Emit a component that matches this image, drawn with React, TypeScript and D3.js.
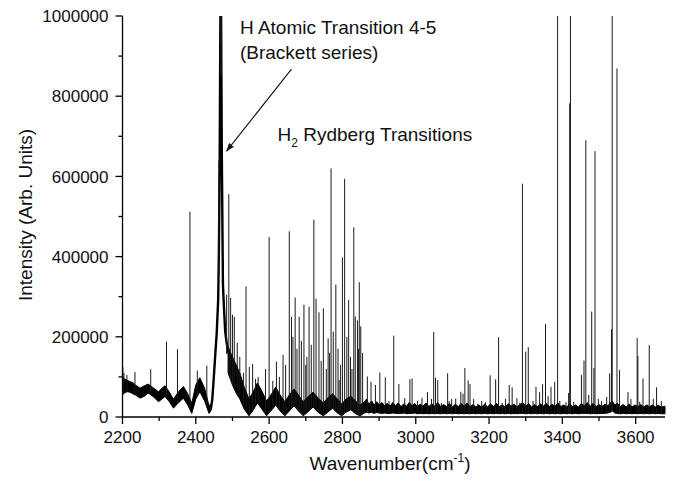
import React from "react";
import * as d3 from "d3";

// ---- data ----
const X_TICKS = [2200, 2400, 2600, 2800, 3000, 3200, 3400, 3600];
const X_MINOR = [2300, 2500, 2700, 2900, 3100, 3300, 3500];
const Y_TICKS = [0, 200000, 400000, 600000, 800000, 1000000];
const Y_MINOR = [100000, 300000, 500000, 700000, 900000];

// noisy baseline band left of the Brackett line: [wavenumber, low, high]
const band1: [number, number, number][] = [
  [2200, 55000, 100000], [2205, 60000, 95000], [2212, 63000, 92000], [2220, 62000, 88000],
  [2228, 58000, 86000], [2235, 55000, 80000],
  [2248, 47000, 72000], [2260, 52000, 78000], [2270, 60000, 82000], [2285, 50000, 72000],
  [2298, 38000, 63000], [2308, 45000, 72000], [2316, 51000, 78000], [2328, 38000, 62000],
  [2339, 22000, 44000], [2352, 35000, 62000], [2366, 47000, 76000], [2378, 30000, 58000],
  [2389, 9000, 34000], [2400, 45000, 80000], [2411, 63000, 98000], [2424, 40000, 72000],
  [2436, 9000, 28000], [2441, 15000, 32000],
];

// noisy baseline band right of the Brackett line
const band2: [number, number, number][] = [
  [2488, 110000, 175000], [2500, 80000, 150000], [2510, 60000, 130000], [2520, 45000, 110000],
  [2532, 20000, 75000], [2545, 3000, 45000], [2555, 15000, 60000], [2568, 35000, 85000],
  [2580, 20000, 65000], [2593, 3000, 40000], [2605, 15000, 55000], [2618, 30000, 75000],
  [2630, 15000, 55000], [2643, 3000, 38000], [2655, 15000, 55000], [2668, 28000, 70000],
  [2680, 15000, 55000], [2693, 3000, 38000], [2705, 12000, 50000], [2720, 25000, 62000],
  [2733, 12000, 48000], [2748, 3000, 35000], [2760, 12000, 48000], [2773, 22000, 58000],
  [2786, 10000, 45000], [2798, 3000, 32000], [2810, 12000, 45000], [2823, 18000, 52000],
  [2836, 8000, 40000], [2848, 3000, 30000],
  [2860, 10000, 38000], [2866, 12000, 45000], [2872, 10000, 32000], [2880, 12000, 40000],
  [2886, 9000, 30000], [2894, 11000, 38000], [2900, 10000, 30000], [2908, 9000, 36000],
  [2915, 10000, 28000], [2922, 9000, 34000], [2930, 9000, 27000], [2937, 10000, 36000],
  [2945, 9000, 28000], [2952, 9000, 35000], [2960, 9000, 26000], [2968, 10000, 33000],
  [2975, 8000, 27000], [2982, 9000, 36000], [2990, 9000, 28000], [2997, 10000, 34000],
  [3005, 8000, 26000], [3012, 9000, 32000], [3020, 8000, 27000], [3028, 9000, 35000],
  [3036, 8000, 26000], [3044, 9000, 33000], [3052, 8000, 27000], [3060, 9000, 36000],
  [3068, 8000, 26000], [3076, 9000, 31000], [3084, 8000, 26000], [3092, 9000, 34000],
  [3100, 8000, 25000], [3108, 9000, 32000], [3116, 8000, 26000], [3124, 9000, 34000],
  [3132, 8000, 27000], [3140, 9000, 35000], [3148, 8000, 26000], [3156, 9000, 31000],
  [3164, 8000, 25000], [3172, 9000, 30000], [3180, 8000, 25000], [3188, 9000, 32000],
  [3196, 8000, 25000], [3204, 9000, 33000], [3212, 8000, 26000], [3220, 9000, 34000],
  [3228, 8000, 26000], [3236, 9000, 30000], [3244, 8000, 25000], [3252, 9000, 33000],
  [3260, 8000, 27000], [3268, 9000, 32000], [3276, 8000, 25000], [3284, 9000, 31000],
  [3292, 9000, 36000], [3300, 8000, 27000], [3308, 9000, 34000], [3316, 8000, 25000],
  [3324, 9000, 31000], [3332, 8000, 26000], [3340, 9000, 33000], [3348, 8000, 27000],
  [3356, 9000, 34000], [3364, 8000, 26000], [3372, 9000, 32000], [3380, 8000, 27000],
  [3388, 9000, 35000], [3396, 8000, 26000], [3404, 9000, 30000], [3412, 8000, 25000],
  [3420, 9000, 33000], [3428, 8000, 26000], [3436, 9000, 30000], [3444, 8000, 25000],
  [3452, 9000, 34000], [3460, 9000, 28000], [3468, 9000, 36000], [3476, 8000, 27000],
  [3484, 9000, 34000], [3492, 8000, 26000], [3500, 9000, 31000], [3508, 9000, 26000],
  [3516, 9000, 32000], [3524, 10000, 28000], [3531, 12000, 36000], [3537, 15000, 38000],
  [3543, 10000, 30000], [3550, 9000, 34000], [3558, 8000, 26000], [3566, 9000, 31000],
  [3574, 8000, 25000], [3582, 9000, 32000], [3590, 8000, 25000], [3598, 9000, 30000],
  [3606, 8000, 26000], [3614, 9000, 31000], [3622, 8000, 25000], [3630, 9000, 30000],
  [3638, 8000, 26000], [3646, 9000, 30000], [3654, 8000, 25000], [3662, 9000, 29000],
  [3670, 8000, 25000], [3680, 8000, 27000],
];

// broad H atomic (Brackett 4-5) line profile
const peakProfile: [number, number][] = [
  [2436, 15000], [2441, 20000], [2445, 45000], [2448, 84000], [2452, 140000],
  [2457, 209000], [2461, 292000], [2463, 417000], [2465, 620000], [2467, 1000000],
  [2469, 1000000], [2471, 650000], [2474, 330000], [2477, 270000], [2480, 215000],
  [2484, 185000], [2488, 165000], [2494, 145000], [2500, 130000],
];

// narrow H2 Rydberg lines: [wavenumber, intensity]
const lines: [number, number][] = [
  [2201, 125000], [2204, 110000], [2212, 105000], [2234, 112000], [2277, 119000],
  [2320, 188000], [2350, 169000], [2384, 512000], [2404, 116000], [2430, 128000],
  [2463, 640000], [2468, 1100000], [2469, 1100000],
  [2484, 305000], [2490, 556000], [2495, 297000], [2500, 255000], [2505, 250000],
  [2513, 185000], [2520, 150000], [2530, 110000], [2537, 326000], [2546, 125000],
  [2555, 132000], [2563, 95000], [2570, 100000], [2590, 120000], [2600, 449000],
  [2610, 90000], [2620, 138000], [2628, 100000], [2638, 155000], [2645, 130000],
  [2655, 463000], [2661, 250000], [2665, 200000], [2671, 298000], [2676, 170000],
  [2682, 250000], [2688, 190000], [2695, 280000], [2700, 130000], [2703, 150000],
  [2709, 275000], [2715, 180000], [2722, 492000], [2728, 295000], [2736, 261000],
  [2742, 140000], [2748, 271000], [2756, 120000], [2761, 196000], [2765, 160000],
  [2769, 620000], [2775, 213000], [2782, 330000], [2788, 170000], [2791, 92000],
  [2795, 130000], [2800, 398000], [2806, 594000], [2812, 200000], [2817, 292000],
  [2822, 150000], [2826, 120000], [2831, 473000], [2835, 251000], [2841, 241000],
  [2844, 170000], [2846, 336000], [2850, 226000], [2855, 160000], [2868, 101000],
  [2878, 88000], [2890, 80000], [2902, 111000], [2917, 99000], [2927, 40000],
  [2940, 203000], [2954, 82000], [2970, 47000], [2984, 94000], [2990, 96000],
  [3005, 40000], [3017, 48000], [3032, 62000], [3043, 45000], [3049, 212000],
  [3054, 98000], [3060, 92000], [3070, 35000], [3087, 109000], [3091, 40000],
  [3098, 45000], [3109, 46000], [3123, 63000], [3129, 58000], [3134, 122000],
  [3143, 91000], [3148, 82000], [3158, 45000], [3169, 33000], [3180, 40000],
  [3190, 37000], [3203, 104000], [3218, 94000], [3226, 199000], [3236, 35000],
  [3245, 45000], [3255, 80000], [3263, 74000], [3276, 47000], [3284, 36000],
  [3291, 582000], [3300, 163000], [3307, 174000], [3320, 40000], [3328, 75000],
  [3338, 62000], [3346, 82000], [3354, 232000], [3361, 52000], [3369, 75000],
  [3379, 88000], [3387, 1100000], [3393, 40000], [3410, 37000], [3417, 60000],
  [3420, 782000], [3422, 1100000], [3431, 38000], [3452, 105000], [3459, 141000],
  [3464, 690000], [3472, 55000], [3480, 263000], [3486, 122000], [3489, 663000],
  [3498, 45000], [3507, 40000], [3521, 50000], [3529, 109000], [3534, 219000],
  [3536, 1100000], [3549, 869000], [3556, 117000], [3579, 62000], [3587, 45000],
  [3604, 197000], [3606, 152000], [3611, 38000], [3620, 96000], [3637, 179000],
  [3648, 45000], [3657, 74000], [3670, 40000],
];

const X_DOMAIN: [number, number] = [2200, 3680];
const Y_DOMAIN: [number, number] = [0, 1000000];

// ---- layout ----
const W = 675;
const H = 485;
const LEFT = 122.5;
const RIGHT = 665;
const TOP = 16;
const BOTTOM = 417;
const FONT = "'Liberation Sans', Arial, sans-serif";

function lowAt(v: number): number {
  const interp = (arr: any[], idx: number) => {
    const xs = arr.map((d) => d[0]);
    const i = d3.bisectLeft(xs, v);
    if (i <= 0) return arr[0][idx];
    if (i >= arr.length) return arr[arr.length - 1][idx];
    const a = arr[i - 1];
    const b = arr[i];
    const t = (v - a[0]) / (b[0] - a[0]);
    return a[idx] + t * (b[idx] - a[idx]);
  };
  if (v <= band1[band1.length - 1][0]) return interp(band1, 1);
  if (v >= band2[0][0]) return interp(band2, 1);
  return interp(peakProfile, 1) * 0.85;
}

export default function App() {
  const x = d3.scaleLinear().domain(X_DOMAIN).range([LEFT, RIGHT]);
  const y = d3.scaleLinear().domain(Y_DOMAIN).range([BOTTOM, TOP]);

  const area = d3
    .area<[number, number, number]>()
    .x((d) => x(d[0]))
    .y0((d) => y(d[1]))
    .y1((d) => y(d[2]));
  const peakLine = d3
    .line<[number, number]>()
    .x((d) => x(d[0]))
    .y((d) => y(d[1]));

  return (
    <svg
      width={W}
      height={H}
      viewBox={`0 0 ${W} ${H}`}
      style={{ position: "absolute", left: 0, top: 0, background: "#fff" }}
      fontFamily={FONT}
    >
      <defs>
        <clipPath id="plotclip">
          <rect x={LEFT} y={TOP} width={RIGHT - LEFT + 2} height={BOTTOM - TOP} />
        </clipPath>
        <marker id="arrowhead" viewBox="0 0 10 10" refX="9" refY="5" markerWidth="8" markerHeight="8" orient="auto">
          <path d="M0,1.5 L10,5 L0,8.5 Z" fill="#111" />
        </marker>
      </defs>

      <g clipPath="url(#plotclip)">
        <path d={area(band1) || ""} fill="#000" stroke="#000" strokeWidth={1} />
        <path d={area(band2) || ""} fill="#000" stroke="#000" strokeWidth={1} />
        <path d={peakLine(peakProfile) || ""} fill="none" stroke="#000" strokeWidth={2.4} strokeLinejoin="round" />
        {lines.map(([wn, v], i) => (
          <line
            key={i}
            x1={x(wn)}
            x2={x(wn)}
            y1={y(lowAt(wn))}
            y2={y(v)}
            stroke="#1a1a1a"
            strokeWidth={1}
          />
        ))}
      </g>

      {/* axes */}
      <line x1={LEFT} x2={LEFT} y1={TOP} y2={BOTTOM} stroke="#000" strokeWidth={1.3} />
      <line x1={LEFT} x2={RIGHT} y1={BOTTOM} y2={BOTTOM} stroke="#000" strokeWidth={1.3} />
      {X_TICKS.map((t) => (
        <g key={"xt" + t}>
          <line x1={x(t)} x2={x(t)} y1={BOTTOM} y2={BOTTOM + 7} stroke="#000" strokeWidth={1.3} />
          <text x={x(t)} y={BOTTOM + 26} textAnchor="middle" fontSize={17} fill="#111">
            {t}
          </text>
        </g>
      ))}
      {X_MINOR.map((t) => (
        <line key={"xm" + t} x1={x(t)} x2={x(t)} y1={BOTTOM} y2={BOTTOM + 4} stroke="#000" strokeWidth={1.3} />
      ))}
      {Y_TICKS.map((t) => (
        <g key={"yt" + t}>
          <line x1={LEFT - 7} x2={LEFT} y1={y(t)} y2={y(t)} stroke="#000" strokeWidth={1.3} />
          <text x={LEFT - 14} y={y(t)} dy="0.36em" textAnchor="end" fontSize={17} fill="#111">
            {t}
          </text>
        </g>
      ))}
      {Y_MINOR.map((t) => (
        <line key={"ym" + t} x1={LEFT - 4} x2={LEFT} y1={y(t)} y2={y(t)} stroke="#000" strokeWidth={1.3} />
      ))}

      {/* axis titles */}
      <text x={390} y={470} textAnchor="middle" fontSize={19} fill="#111">
        Wavenumber(cm<tspan dy={-8} fontSize={12}>-1</tspan>
        <tspan dy={8}>)</tspan>
      </text>
      <text transform={`translate(32, 215) rotate(-90)`} textAnchor="middle" fontSize={19} fill="#111">
        Intensity (Arb. Units)
      </text>

      {/* annotations */}
      <text x={x(2520.5)} y={y(956000)} fontSize={19} fill="#111">
        H Atomic Transition 4-5
      </text>
      <text x={x(2520.5)} y={y(894000)} fontSize={19} fill="#111">
        (Brackett series)
      </text>
      <line
        x1={x(2661)}
        y1={y(867500)}
        x2={x(2484)}
        y2={y(663000)}
        stroke="#111"
        strokeWidth={1.1}
        markerEnd="url(#arrowhead)"
      />
      <text x={x(2623)} y={y(688000)} fontSize={19} fill="#111">
        H<tspan dy={6} fontSize={12}>2</tspan>
        <tspan dy={-6}> Rydberg Transitions</tspan>
      </text>
    </svg>
  );
}
